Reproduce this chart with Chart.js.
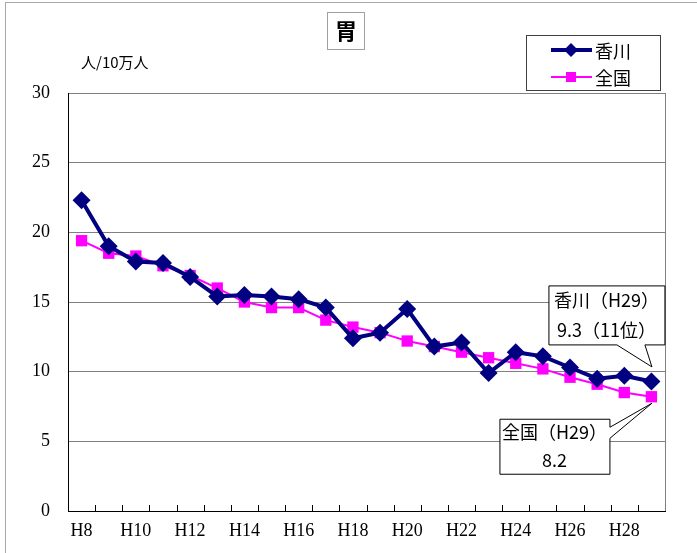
<!DOCTYPE html>
<html>
<head>
<meta charset="utf-8">
<script src="https://cdn.jsdelivr.net/npm/chart.js@4"></script>
<style>
  body { margin: 0; background: #fff; }
  #wrap { width: 697px; height: 553px; }
</style>
</head>
<body>
<div id="wrap"><canvas id="chart" width="697" height="553"></canvas></div>
<script>
// data (人/10万人)
const years = ['H8', 'H9', 'H10', 'H11', 'H12', 'H13', 'H14', 'H15', 'H16', 'H17', 'H18',
               'H19', 'H20', 'H21', 'H22', 'H23', 'H24', 'H25', 'H26', 'H27', 'H28', 'H29'];
const kagawa = [22.3, 19.0, 17.9, 17.8, 16.8, 15.4, 15.5, 15.4, 15.2, 14.6, 12.4,
                12.8, 14.5, 11.8, 12.1, 9.9, 11.4, 11.1, 10.3, 9.5, 9.7, 9.3];
const zenkoku = [19.4, 18.5, 18.3, 17.6, 16.9, 16.0, 15.0, 14.6, 14.6, 13.7, 13.2,
                 12.8, 12.2, 11.8, 11.4, 11.0, 10.6, 10.2, 9.6, 9.1, 8.5, 8.2];
const yTicks = [0, 5, 10, 15, 20, 25, 30];

const titleText = '胃';
const unitText = '人/10万人';
const seriesNames = ['香川', '全国'];
const kagawaNote = ['香川（H29）', '9.3（11位）'];
const zenkokuNote = ['全国（H29）', '8.2'];

const NAVY = '#000080';
const MAGENTA = '#ff00ff';
const JP = '"Noto Sans CJK JP", "Noto Sans", sans-serif';
const SERIF = '"Liberation Serif", "DejaVu Serif", serif';

function marker(ctx, type, x, y, color) {
    ctx.save();
    ctx.fillStyle = color;
    ctx.beginPath();
    if (type === 'diamond') {
        ctx.moveTo(x, y - 7); ctx.lineTo(x + 7, y); ctx.lineTo(x, y + 7); ctx.lineTo(x - 7, y);
        ctx.closePath();
    } else {
        ctx.rect(x - 5, y - 5, 10, 10);
    }
    ctx.fill();
    ctx.restore();
}

function callout(ctx, box, base1, base2, tip, lines) {
    ctx.save();
    ctx.beginPath();
    ctx.fillStyle = '#fff';
    ctx.strokeStyle = '#000';
    ctx.lineWidth = 1;
    // box outline with a wedge, walking clockwise
    const pts = [[box.l, box.t], [box.r, box.t]];
    if (box.side === 'right') {
        pts.push([box.r, base1], tip, [box.r, base2]);
        pts.push([box.r, box.b], [box.l, box.b]);
    } else {
        pts.push([box.r, box.b], [base2, box.b], tip, [base1, box.b], [box.l, box.b]);
    }
    ctx.moveTo(pts[0][0] + 0.5, pts[0][1] + 0.5);
    for (let i = 1; i < pts.length; i++) ctx.lineTo(pts[i][0] + 0.5, pts[i][1] + 0.5);
    ctx.closePath();
    ctx.fill();
    ctx.stroke();
    ctx.fillStyle = '#000';
    ctx.font = '18px ' + JP;
    ctx.textAlign = 'center';
    ctx.textBaseline = 'middle';
    const cx = (box.l + box.r) / 2;
    const step = (box.b - box.t) / lines.length;
    lines.forEach((s, i) => ctx.fillText(s, cx, box.t + step * (i + 0.5)));
    ctx.restore();
}

const decorPlugin = {
    id: 'decor',
    afterDraw(chart) {
        const ctx = chart.ctx;
        const area = chart.chartArea;
        const xs = chart.scales.x;

        ctx.save();
        // outer frame
        ctx.strokeStyle = '#a8a8a8';
        ctx.lineWidth = 1;
        ctx.strokeRect(5.5, 2.5, 800, 800);

        // right border of plot area
        ctx.strokeStyle = '#808080';
        ctx.beginPath();
        ctx.moveTo(area.right + 0.5, area.top);
        ctx.lineTo(area.right + 0.5, area.bottom);
        ctx.stroke();

        // inner tick marks between categories
        ctx.strokeStyle = '#000';
        ctx.beginPath();
        for (let i = 0; i < years.length - 1; i++) {
            const x = Math.round((xs.getPixelForValue(i) + xs.getPixelForValue(i + 1)) / 2) + 0.5;
            ctx.moveTo(x, area.bottom);
            ctx.lineTo(x, area.bottom - 6);
        }
        ctx.stroke();

        // title box
        ctx.strokeStyle = '#a0a0a0';
        ctx.strokeRect(327.5, 12.5, 37, 37);
        ctx.fillStyle = '#000';
        ctx.font = 'bold 22px ' + JP;
        ctx.textAlign = 'center';
        ctx.textBaseline = 'middle';
        ctx.fillText(titleText, 346, 31);

        // unit label
        ctx.font = '15px ' + JP;
        ctx.textAlign = 'left';
        ctx.fillText(unitText, 81, 62);

        // legend
        ctx.fillStyle = '#fff';
        ctx.fillRect(526, 35, 134, 55);
        ctx.strokeStyle = '#404040';
        ctx.strokeRect(526.5, 35.5, 134, 55);
        const rows = [[NAVY, 4, 'diamond', 50], [MAGENTA, 2, 'rect', 77]];
        rows.forEach((r, i) => {
            ctx.strokeStyle = r[0];
            ctx.lineWidth = r[1];
            ctx.beginPath();
            ctx.moveTo(551, r[3]);
            ctx.lineTo(592, r[3]);
            ctx.stroke();
            marker(ctx, r[2], 571, r[3], r[0]);
            ctx.fillStyle = '#000';
            ctx.font = '18px ' + JP;
            ctx.textAlign = 'left';
            ctx.textBaseline = 'middle';
            ctx.fillText(seriesNames[i], 595, r[3] + 1);
        });
        ctx.restore();

        // callouts anchored on the last points
        const last = years.length - 1;
        const pk = chart.getDatasetMeta(0).data[last];
        const pz = chart.getDatasetMeta(1).data[last];
        callout(ctx, { l: pk.x - 103, r: pk.x + 13, t: pk.y - 96, b: pk.y - 37, side: 'bottom' },
            pk.x - 35, pk.x - 7, [pk.x, pk.y - 15], kagawaNote);
        callout(ctx, { l: pz.x - 152, r: pz.x - 42, t: pz.y + 22, b: pz.y + 77, side: 'right' },
            pz.y + 30, pz.y + 41, [pz.x, pz.y + 6], zenkokuNote);
    }
};

new Chart(document.getElementById('chart'), {
    type: 'line',
    data: {
        labels: years,
        datasets: [{
            label: seriesNames[0],
            data: kagawa,
            borderColor: NAVY,
            backgroundColor: NAVY,
            borderWidth: 4,
            pointStyle: 'rectRot',
            pointRadius: 9,
            pointBorderWidth: 0,
            tension: 0
        }, {
            label: seriesNames[1],
            data: zenkoku,
            borderColor: MAGENTA,
            backgroundColor: MAGENTA,
            borderWidth: 2,
            pointStyle: 'rect',
            pointRadius: 8,
            pointBorderWidth: 0,
            tension: 0
        }]
    },
    options: {
        responsive: false,
        animation: false,
        layout: { padding: { left: 0, top: 93, right: 32, bottom: 0 } },
        plugins: {
            legend: { display: false },
            tooltip: { enabled: false }
        },
        scales: {
            x: {
                offset: true,
                grid: { display: true, drawOnChartArea: false, drawTicks: false, offset: true },
                border: { color: '#000', width: 1 },
                ticks: {
                    autoSkip: false,
                    maxRotation: 0,
                    padding: 9,
                    color: '#000',
                    font: { family: SERIF, size: 18 },
                    callback: function (v, i) { return i % 2 === 0 ? years[i] : ''; }
                },
                afterFit: function (s) { s.height = 42; }
            },
            y: {
                min: 0,
                max: 30,
                afterBuildTicks: function (s) { s.ticks = yTicks.map(v => ({ value: v })); },
                grid: { color: '#808080', drawTicks: false },
                border: { color: '#000', width: 1 },
                ticks: {
                    padding: 18,
                    color: '#000',
                    font: { family: SERIF, size: 18 }
                },
                afterFit: function (s) { s.width = 68; }
            }
        }
    },
    plugins: [decorPlugin]
});
</script>
</body>
</html>
